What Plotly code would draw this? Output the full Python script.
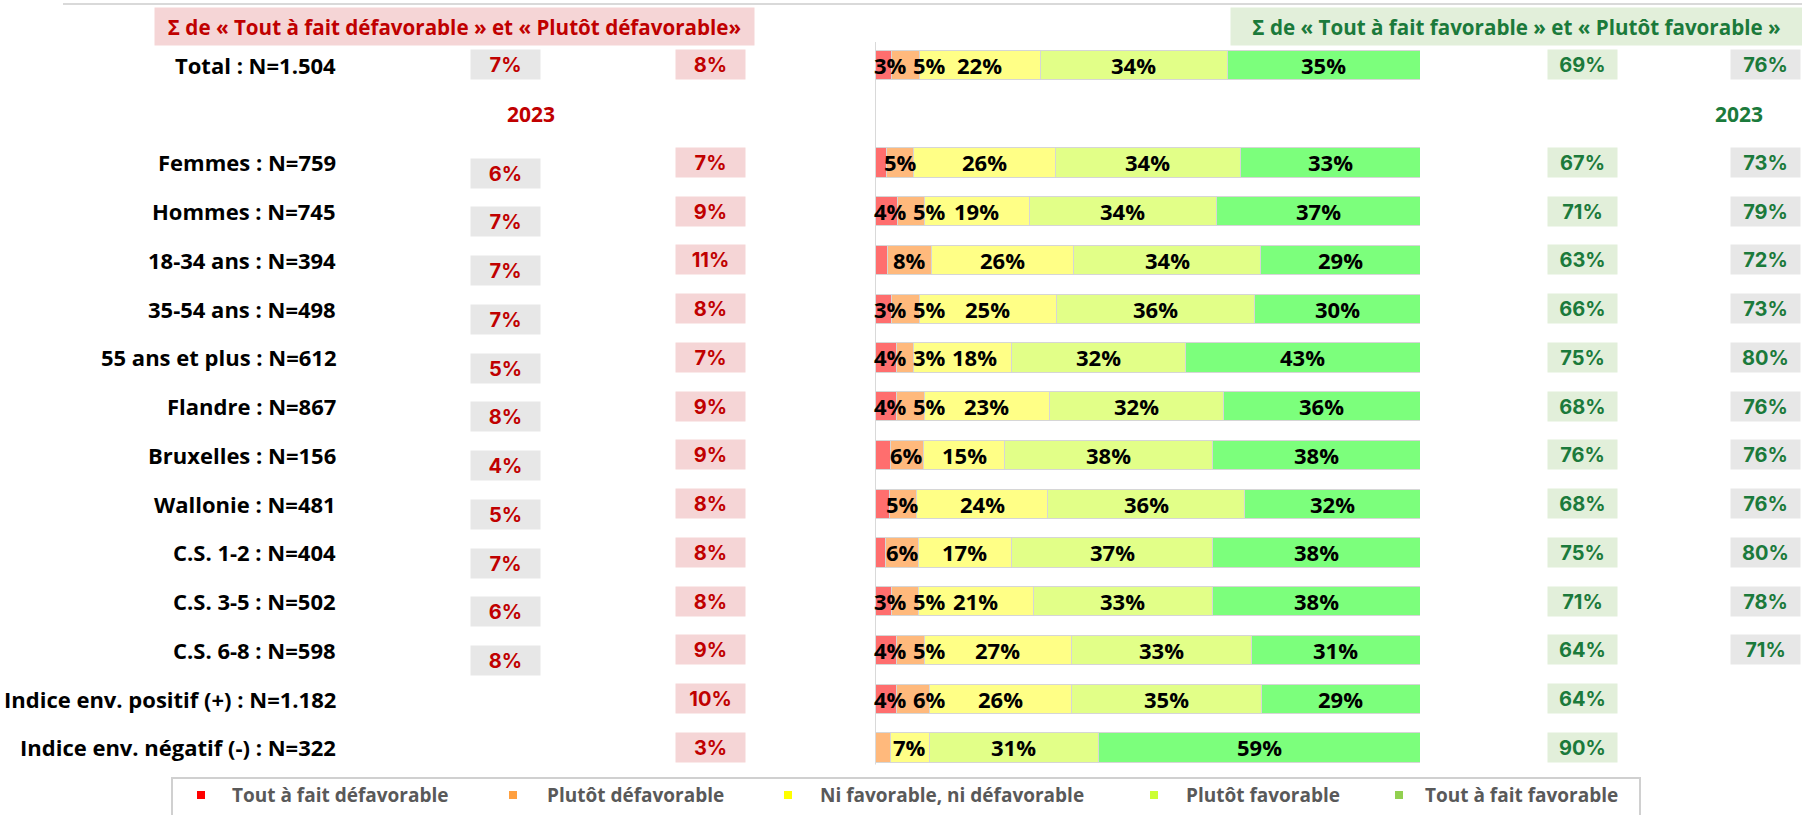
import plotly.graph_objects as go

# ---- data ----
categories = ["Total : N=1.504", "Femmes : N=759", "Hommes : N=745", "18-34 ans : N=394",
              "35-54 ans : N=498", "55 ans et plus : N=612", "Flandre : N=867", "Bruxelles : N=156",
              "Wallonie : N=481", "C.S. 1-2 : N=404", "C.S. 3-5 : N=502", "C.S. 6-8 : N=598",
              "Indice env. positif (+) : N=1.182", "Indice env. négatif (-) : N=322"]

tout_defav = [3, 2.1, 4, 2.2, 3, 4, 4, 2.8, 2.6, 2.0, 3, 4, 4, 0]
plutot_defav = [5, 5, 5, 8, 5, 3.1, 5, 6, 5, 6, 5, 5, 6, 2.9]
ni_fav_ni_defav = [22, 26, 19, 26, 25, 18, 23, 15, 24, 17, 21, 27, 26, 7]
plutot_fav = [34, 34, 34, 34, 36, 32, 32, 38, 36, 37, 33, 33, 35, 31]
tout_fav = [35, 33, 37, 29, 30, 43, 36, 38, 32, 38, 38, 31, 29, 59]

defav_sum = [8, 7, 9, 11, 8, 7, 9, 9, 8, 8, 8, 9, 10, 3]
defav_2023 = [7, 6, 7, 7, 7, 5, 8, 4, 5, 7, 6, 8, None, None]
fav_sum = [69, 67, 71, 63, 66, 75, 68, 76, 68, 75, 71, 64, 64, 90]
fav_2023 = [76, 73, 79, 72, 73, 80, 76, 76, 76, 80, 78, 71, None, None]

series_names = ["Tout à fait défavorable", "Plutôt défavorable", "Ni favorable, ni défavorable",
                "Plutôt favorable", "Tout à fait favorable"]
series_values = [tout_defav, plutot_defav, ni_fav_ni_defav, plutot_fav, tout_fav]
bar_colors = ["#ff6e6e", "#ffb97c", "#ffff86", "#e2ff88", "#7cff7c"]
legend_colors = ["#ff0000", "#ffa040", "#ffff00", "#ccff33", "#92d050"]

# row positions: row 1 is kept for the "2023" captions
rows = [0] + list(range(2, 15))

W, H = 1802, 815
FONT = "Open Sans"
BOX_FONT = "Inter"
DARK_RED = "#c00000"
DARK_GREEN = "#1b7a3b"
BAR_X0, BAR_X1 = 875, 1420
LABEL_SIZE = 22


def px(x):
    return x / W


def py(y):
    return 1 - y / H


fig = go.Figure()

for name, vals, col in zip(series_names, series_values, bar_colors):
    fig.add_trace(go.Bar(
        y=rows, x=vals, orientation="h", width=0.6, name=name, showlegend=False,
        marker=dict(color=col, line=dict(color="#d6d6d6", width=1)),
        hoverinfo="skip"))

yrange = [15.385, -1.333]
fig.update_layout(
    width=W, height=H, margin=dict(l=0, r=0, t=0, b=0),
    paper_bgcolor="white", plot_bgcolor="rgba(0,0,0,0)",
    barmode="stack", barnorm="percent",
    xaxis=dict(domain=[px(BAR_X0), px(BAR_X1)], range=[0, 100], visible=False, fixedrange=True),
    yaxis=dict(domain=[0, 1], range=yrange, visible=False, fixedrange=True),
)

shapes = [
    # top rule
    dict(type="line", xref="paper", yref="paper", x0=px(63), x1=1, y0=py(4), y1=py(4),
         line=dict(color="#d9d9d9", width=2)),
    # vertical axis line at 0%
    dict(type="line", xref="x", yref="y", x0=0, x1=0, y0=-0.47, y1=14.35,
         line=dict(color="#d9d9d9", width=2)),
    # legend frame
    dict(type="rect", xref="paper", yref="paper", x0=px(172), x1=px(1640), y0=py(778), y1=py(830),
         line=dict(color="#d0d0d0", width=2), fillcolor="white", layer="below"),
]

annotations = []

# segment labels: centred on each segment, pushed right when they would collide
unit_px = (BAR_X1 - BAR_X0) / 100.0
for i, r in enumerate(rows):
    row_vals = [s[i] for s in series_values]
    total = sum(row_vals)
    cum = 0.0
    prev_right = None
    for v in row_vals:
        centre = (cum + v / 2) / total * 100 * unit_px
        cum += v
        if v < 3:
            continue
        txt = f"{v:.0f}%"
        w = (len(txt) - 1) * 0.58 * LABEL_SIZE + 0.85 * LABEL_SIZE
        left = centre - w / 2
        left = max(left, 0 if prev_right is None else prev_right + 7)
        prev_right = left + w
        annotations.append(dict(
            xref="x", yref="y", x=(left + w / 2) / unit_px, y=r, xanchor="center", yanchor="middle",
            text=txt, showarrow=False,
            font=dict(family=FONT, size=LABEL_SIZE, color="black", weight="bold")))

# header boxes
annotations.append(dict(
    xref="paper", yref="paper", x=px(455), y=py(26.5), xanchor="center", yanchor="middle",
    text="Σ de « Tout à fait défavorable » et « Plutôt défavorable»", showarrow=False,
    width=597, height=35, bgcolor="#f5d5d6",
    font=dict(family=FONT, size=20.6, color=DARK_RED, weight="bold")))
annotations.append(dict(
    xref="paper", yref="paper", x=px(1516), y=py(26.5), xanchor="center", yanchor="middle",
    text="Σ de « Tout à fait favorable » et « Plutôt favorable »", showarrow=False,
    width=569, height=35, bgcolor="#e2efda",
    font=dict(family=FONT, size=20.6, color=DARK_GREEN, weight="bold")))

# row labels
for cat, r in zip(categories, rows):
    annotations.append(dict(
        xref="paper", yref="y", x=px(338), y=r, xanchor="right", yanchor="middle",
        text=cat, showarrow=False,
        font=dict(family=FONT, size=22, color="black", weight="bold")))

# "2023" captions
annotations.append(dict(xref="paper", yref="y", x=px(505), y=1, text="2023", showarrow=False,
                        font=dict(family=FONT, size=21, color=DARK_RED, weight="bold")))
annotations.append(dict(xref="paper", yref="y", x=px(1765), y=1, text="2023", showarrow=False,
                        font=dict(family=FONT, size=21, color=DARK_GREEN, weight="bold")))


def box(xc, yv, val, bg, fg):
    return dict(xref="paper", yref="y", x=px(xc), y=yv, xanchor="center", yanchor="middle",
                text=f"{val}%", showarrow=False, width=67, height=27, bgcolor=bg,
                font=dict(family=BOX_FONT, size=20, color=fg, weight="bold"))


for i, r in enumerate(rows):
    if defav_2023[i] is not None:
        off = 0 if i == 0 else 0.22
        annotations.append(box(505, r + off, defav_2023[i], "#e7e7e7", DARK_RED))
    annotations.append(box(710, r, defav_sum[i], "#f5d5d6", DARK_RED))
    annotations.append(box(1582, r, fav_sum[i], "#e2efda", DARK_GREEN))
    if fav_2023[i] is not None:
        annotations.append(box(1765, r, fav_2023[i], "#e7e7e7", DARK_GREEN))

# custom legend
sq_x = [201, 513, 788, 1154, 1399]
txt_x = [230, 545, 818, 1184, 1423]
for name, col, sx, tx in zip(series_names, legend_colors, sq_x, txt_x):
    shapes.append(dict(type="rect", xref="paper", yref="paper",
                       x0=px(sx - 4), x1=px(sx + 4), y0=py(791), y1=py(799),
                       fillcolor=col, line=dict(width=0)))
    annotations.append(dict(xref="paper", yref="paper", x=px(tx), y=py(795),
                            xanchor="left", yanchor="middle", text=name, showarrow=False,
                            font=dict(family=FONT, size=19, color="#595959", weight="bold")))

fig.update_layout(shapes=shapes, annotations=annotations)

fig.write_html("out.html", config={"displayModeBar": False},
               post_script="document.body.style.margin='0';")
